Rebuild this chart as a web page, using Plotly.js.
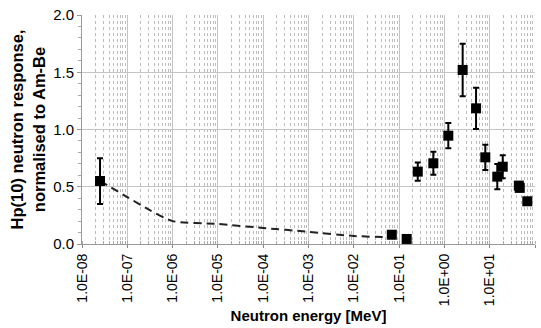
<!DOCTYPE html>
<html><head><meta charset="utf-8">
<script src="https://cdn.plot.ly/plotly-3.0.1.min.js"></script>
<style>html,body{margin:0;padding:0;background:#fff}#chart{width:541px;height:328px}</style>
</head><body><div id="chart"></div>
<script>
// Measured points
const energy = [2.5e-8, 0.069, 0.147, 0.258, 0.57, 1.22, 2.53, 5.0, 8.0, 14.7, 19.4, 44, 46, 67.6];
const response = [0.55, 0.081, 0.044, 0.632, 0.705, 0.946, 1.52, 1.185, 0.757, 0.588, 0.675, 0.51, 0.49, 0.373];
const errors = [0.20, 0.0, 0.0, 0.08, 0.10, 0.11, 0.23, 0.18, 0.11, 0.11, 0.10, 0.02, 0.02, 0.02];
// Calculated curve (dashed)
const curveEnergy = [2.5e-8, 1e-7, 3e-7, 1e-6, 1e-5, 1e-4, 1e-3, 1e-2, 0.05];
const curveResp = [0.55, 0.41, 0.30, 0.20, 0.175, 0.14, 0.107, 0.07, 0.06];
// Tick labels
const tickVals = [1e-8,1e-7,1e-6,1e-5,1e-4,1e-3,1e-2,1e-1,1e0,1e1,1e2];
const tickText = ['1.0E-08','1.0E-07','1.0E-06','1.0E-05','1.0E-04','1.0E-03','1.0E-02','1.0E-01','1.0E+00','1.0E+01','1.0E+02'];

const font = 'Liberation Sans, Arial, sans-serif';
const traces = [
  {x: curveEnergy, y: curveResp, mode: 'lines', type: 'scatter',
   line: {color: '#222', width: 2, dash: '8px,5px', shape: 'spline', smoothing: 0.6}, hoverinfo: 'skip'},
  {x: energy, y: response, mode: 'markers', type: 'scatter',
   marker: {symbol: 'square', size: 10, color: '#000'},
   error_y: {type: 'data', array: errors, visible: true, color: '#000', thickness: 2, width: 3}}
];
const layout = {
  width: 541, height: 328, showlegend: false,
  paper_bgcolor: '#fff', plot_bgcolor: '#fff',
  margin: {l: 82, r: 6, t: 15, b: 84},
  font: {family: font, color: '#000'},
  xaxis: {type: 'log', range: [-8, 2], tickvals: tickVals, ticktext: tickText,
    tickangle: -90, tickfont: {size: 14, family: font},
    showgrid: true, gridcolor: '#c4c4c4', gridwidth: 1,
    ticks: 'outside', ticklen: 3, tickcolor: '#888',
    showline: true, linecolor: '#999', linewidth: 1, zeroline: false,
    minor: {dtick: 'D1', showgrid: true, gridcolor: '#bcbcbc', griddash: '3px,3px', gridwidth: 1, ticks: 'inside', ticklen: 3, tickcolor: '#aaa'},
    automargin: false,
    title: {text: 'Neutron energy [MeV]', font: {size: 15, family: font, weight: 'bold'}, standoff: 5}},
  yaxis: {range: [0, 2], dtick: 0.5, tickformat: '.1f', tickfont: {size: 15, family: font},
    showgrid: true, gridcolor: '#c4c4c4', gridwidth: 1,
    ticks: 'outside', ticklen: 4, tickcolor: '#999',
    showline: true, linecolor: '#999', linewidth: 1, zeroline: false,
    minor: {dtick: 0.1, ticks: 'outside', ticklen: 3, tickcolor: '#aaa', showgrid: false},
    automargin: false,
    title: {text: '<b>Hp(10) neutron response,</b><br><b>normalised to Am-Be</b>', font: {size: 16.5, family: font}, standoff: 3}}
};
Plotly.newPlot('chart', traces, layout, {staticPlot: true});
</script></body></html>
